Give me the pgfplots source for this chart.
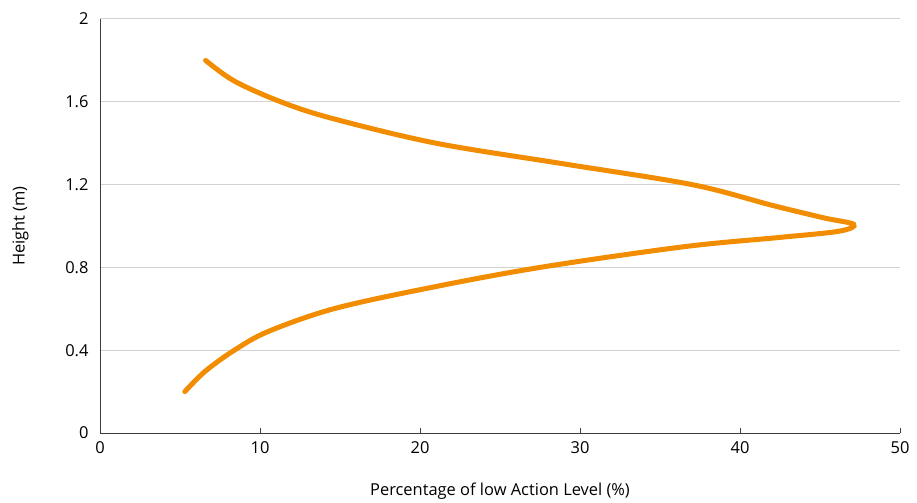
\documentclass[border=0pt]{standalone}
\usepackage{pgfplots}
\pgfplotsset{compat=1.18}
\usepackage{fontspec}
\setmainfont{Open Sans}
\definecolor{ecorange}{RGB}{242,140,0}
\definecolor{gridgrey}{RGB}{210,210,210}
\definecolor{axisgrey}{RGB}{60,60,60}
\begin{document}
\begin{tikzpicture}
\begin{axis}[
  scale only axis,
  width=800bp, height=414bp,
  xmin=0, xmax=50, ymin=0, ymax=2,
  xtick={0,10,20,30,40,50},
  ytick={0,0.4,0.8,1.2,1.6,2},
  axis x line*=bottom, axis y line*=left,
  axis line style={axisgrey, line width=0.8bp},
  x tick style={axisgrey, line width=0.8bp},
  major tick length=5bp,
  xtick align=inside,
  y tick style={draw=none},
  ymajorgrids,
  major grid style={gridgrey, line width=1bp},
  tick label style={font=\fontsize{16.5}{19}\selectfont, text=black},
  /pgf/number format/assume math mode=true,
  xticklabel style={yshift=-5bp},
  yticklabel style={xshift=-8bp},
  xlabel={Percentage of low Action Level (\%)},
  ylabel={Height (m)},
  label style={font=\fontsize{16.5}{19}\selectfont},
  xlabel style={yshift=-22bp},
  ylabel style={yshift=30bp},
  clip=false,
]
\addplot[ecorange, line width=5bp, smooth, tension=0.55, line cap=round] coordinates {
(5.3,0.2) (6.6,0.3) (8.4,0.4) (10.5,0.49) (14.6,0.6) (20.5,0.7) (27.5,0.8) (36.5,0.9)
(42.5,0.945) (46.2,0.975) (47.1,1.008) (45.2,1.04) (42.0,1.10) (37.0,1.2) (29.0,1.3) (21.0,1.4)
(14.5,1.52) (11.3,1.6) (8.4,1.7) (6.6,1.8)
};
\path ([shift={(-100bp,-68bp)}]rel axis cs:0,0) rectangle ([shift={(17bp,19bp)}]rel axis cs:1,1);
\end{axis}
\end{tikzpicture}
\end{document}
